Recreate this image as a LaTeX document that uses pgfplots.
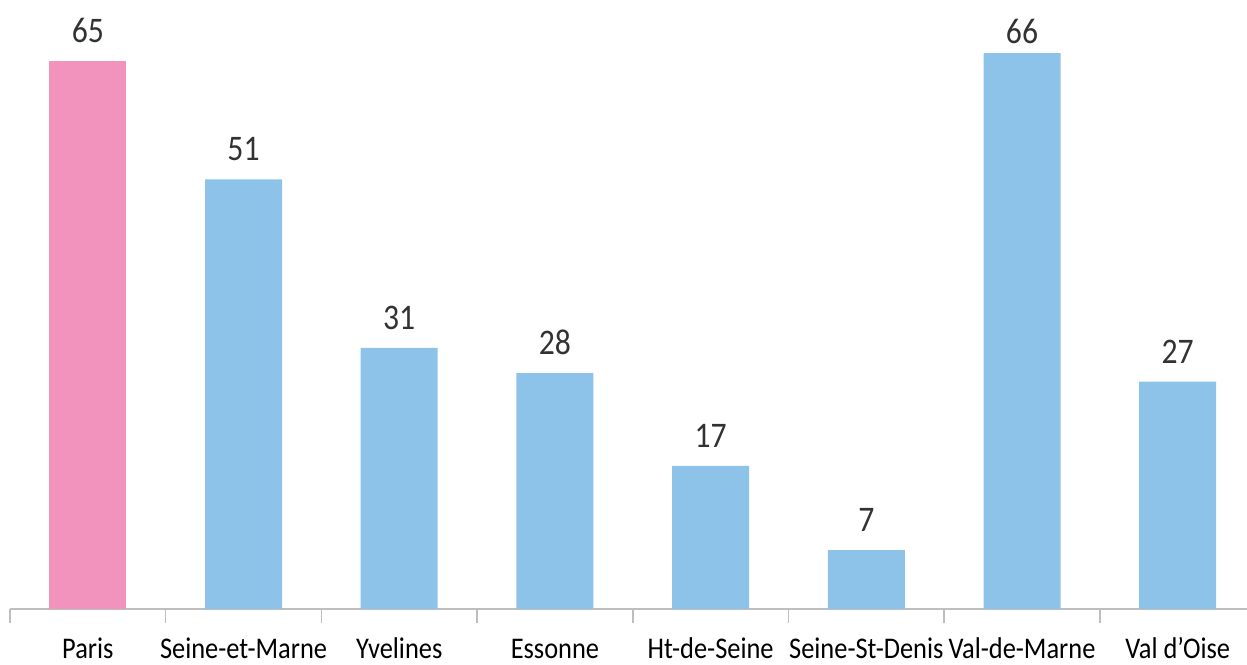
\documentclass[border=0pt]{standalone}
\usepackage{pgfplots}
\pgfplotsset{compat=1.18}
\usepackage{fontspec}
\setmainfont{Carlito}[FakeStretch=0.88]
\definecolor{pinkbar}{RGB}{242,147,190}
\definecolor{bluebar}{RGB}{142,195,233}
\definecolor{axisgray}{RGB}{190,190,190}
\definecolor{numgray}{RGB}{50,50,50}
\begin{document}
\begin{tikzpicture}
\useasboundingbox (-5pt,-27.5pt) rectangle (618.5pt,304.5pt);
\begin{axis}[
  at={(0,0)}, anchor=south west,
  scale only axis, width=618.5pt, height=278pt,
  ymin=0, ymax=66, xmin=-0.5, xmax=7.445,
  /pgf/number format/assume math mode=true,
  axis y line=none, axis x line*=bottom,
  x axis line style={axisgray, line width=0.8pt},
  xtick={0,...,7},
  xticklabels={Paris,Seine-et-Marne,Yvelines,Essonne,Ht-de-Seine,Seine-St-Denis,Val-de-Marne,Val d’Oise},
  major tick length=0pt,
  tick style={axisgray, line width=0.8pt},
  extra x ticks={-0.5,0.5,1.5,2.5,3.5,4.5,5.5,6.5},
  extra x tick labels={},
  extra x tick style={tick align=outside, major tick length=7pt},
  xticklabel style={anchor=base, yshift=-24.5pt, font=\fontsize{15}{15}\selectfont, text=black},
  ybar, bar width=38.5pt, bar shift=0pt,
  nodes near coords,
  visualization depends on={y \as \rawy},
  nodes near coords style={anchor=base, text=numgray, font=\fontsize{18}{18}\selectfont,
     yshift={ifthenelse(\rawy>65.5,5,9.25)*1pt}, inner sep=0pt},
]
\addplot[fill=pinkbar, draw=none] coordinates {(0,65)};
\addplot[fill=bluebar, draw=none] coordinates {(1,51) (2,31) (3,28) (4,17) (5,7) (6,66) (7,27)};
\end{axis}
\end{tikzpicture}
\end{document}
